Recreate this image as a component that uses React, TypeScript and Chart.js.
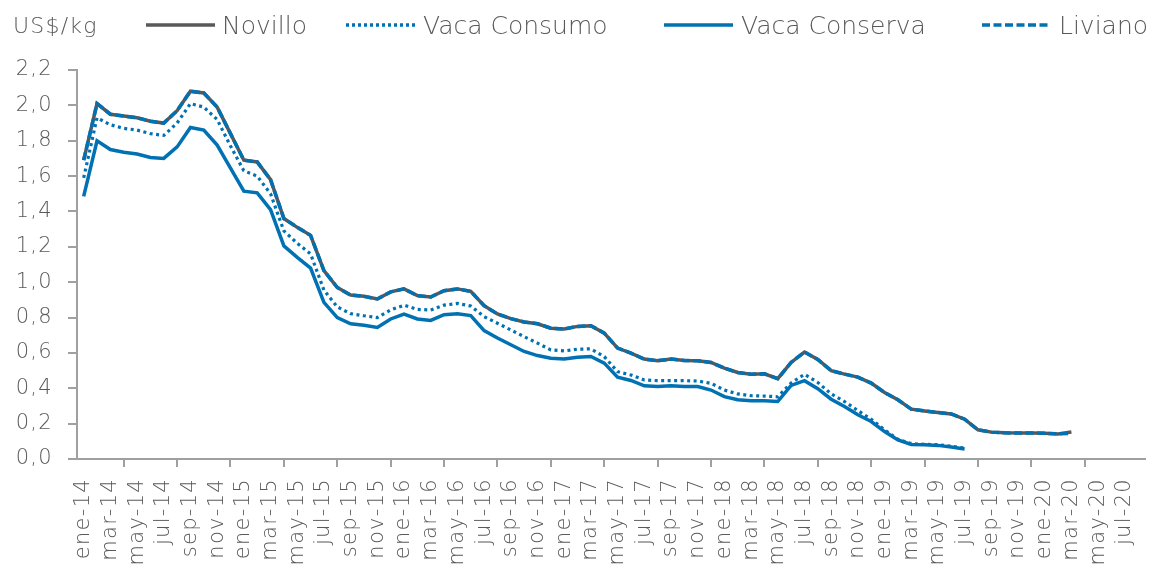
import React, { useEffect, useRef } from 'react';
import { Chart, registerables } from 'chart.js';

Chart.register(...registerables);

// ---- categories (ene-14 .. ago-20) ----
const monthNames = ['ene', 'feb', 'mar', 'abr', 'may', 'jun', 'jul', 'ago', 'sep', 'oct', 'nov', 'dic'];
const years = ['14', '15', '16', '17', '18', '19', '20'];
const allMonths: string[] = [];
years.forEach((y) => monthNames.forEach((m) => allMonths.push(`${m}-${y}`)));
const categories = allMonths.slice(0, 80);

// ---- series (US$/kg) ----
const novillo = [
  1.69, 2.01, 1.95, 1.94, 1.93, 1.91, 1.90, 1.97, 2.08, 2.07, 1.99, 1.84,
  1.69, 1.68, 1.58, 1.36, 1.31, 1.265, 1.065, 0.97, 0.927, 0.92, 0.905, 0.945,
  0.962, 0.924, 0.916, 0.952, 0.962, 0.948, 0.867, 0.82, 0.794, 0.775, 0.765, 0.74,
  0.735, 0.75, 0.754, 0.712, 0.627, 0.599, 0.565, 0.556, 0.565, 0.557, 0.556, 0.546,
  0.514, 0.489, 0.48, 0.482, 0.454, 0.546, 0.605, 0.563, 0.5, 0.48, 0.463, 0.429,
  0.376, 0.335, 0.282, 0.272, 0.263, 0.255, 0.225, 0.165, 0.152, 0.148, 0.147, 0.147,
  0.146, 0.142, 0.153,
];
const vacaConsumo = [
  1.59, 1.93, 1.89, 1.87, 1.86, 1.84, 1.83, 1.90, 2.01, 1.99, 1.92, 1.77,
  1.63, 1.60, 1.50, 1.29, 1.22, 1.16, 0.955, 0.86, 0.822, 0.81, 0.80, 0.843,
  0.87, 0.846, 0.843, 0.87, 0.88, 0.865, 0.805, 0.768, 0.73, 0.692, 0.655, 0.617,
  0.611, 0.621, 0.623, 0.579, 0.494, 0.475, 0.447, 0.443, 0.443, 0.443, 0.441, 0.428,
  0.39, 0.368, 0.358, 0.356, 0.352, 0.43, 0.479, 0.433, 0.368, 0.325, 0.274, 0.225,
  0.165, 0.112, 0.087, 0.083, 0.081, 0.072, 0.062,
];
const vacaConserva = [
  1.485, 1.80, 1.75, 1.735, 1.725, 1.705, 1.70, 1.765, 1.875, 1.86, 1.775, 1.645,
  1.515, 1.505, 1.41, 1.205, 1.14, 1.08, 0.886, 0.80, 0.765, 0.756, 0.744, 0.792,
  0.82, 0.792, 0.784, 0.816, 0.822, 0.811, 0.726, 0.684, 0.646, 0.608, 0.585, 0.57,
  0.565, 0.576, 0.58, 0.542, 0.463, 0.444, 0.414, 0.41, 0.414, 0.41, 0.41, 0.39,
  0.353, 0.335, 0.329, 0.329, 0.325, 0.416, 0.443, 0.398, 0.338, 0.297, 0.25, 0.212,
  0.155, 0.108, 0.082, 0.08, 0.077, 0.068, 0.057,
];
const liviano = [
  1.69, 2.01, 1.95, 1.94, 1.93, 1.91, 1.90, 1.97, 2.08, 2.07, 1.99, 1.84,
  1.69, 1.68, 1.58, 1.36, 1.31, 1.265, 1.065, 0.97, 0.927, 0.92, 0.905, 0.945,
  0.962, 0.924, 0.916, 0.952, 0.962, 0.948, 0.867, 0.82, 0.794, 0.775, 0.765, 0.74,
  0.735, 0.75, 0.754, 0.712, 0.627, 0.599, 0.565, 0.556, 0.565, 0.557, 0.556, 0.546,
  0.514, 0.489, 0.48, 0.482, 0.454, 0.546, 0.605, 0.563, 0.5, 0.48, 0.463, 0.429,
  0.376, 0.335, 0.282, 0.272, 0.263, 0.255, 0.225, 0.165, 0.152, 0.148, 0.147, 0.147,
  0.146, 0.142, 0.145,
];

const seriesNames = ['Novillo', 'Vaca Consumo', 'Vaca Conserva', 'Liviano'];
const unitLabel = 'US$/kg';

const GRAY = '#595959';
const BLUE = '#0071B3';
const AXIS = '#A0A0A0';
const FONT = '"DejaVu Sans", sans-serif';

const legendItems = [
  { label: seriesNames[0], color: GRAY, dash: '', lineLeft: 146, textLeft: 222 },
  { label: seriesNames[1], color: BLUE, dash: '3 3', lineLeft: 346, textLeft: 423 },
  { label: seriesNames[2], color: BLUE, dash: '', lineLeft: 664, textLeft: 741 },
  { label: seriesNames[3], color: BLUE, dash: '8 3.5', lineLeft: 982, textLeft: 1059 },
];

const letterSpacingPlugin = {
  id: 'letterSpacing',
  beforeDraw(chart: any) {
    try {
      (chart.ctx as any).letterSpacing = '1.3px';
    } catch (e) {
      /* ignore */
    }
  },
};

export default function App() {
  const ref = useRef<HTMLCanvasElement>(null);

  useEffect(() => {
    const canvas = ref.current;
    if (!canvas) return;
    const chart = new Chart(canvas, {
      type: 'line',
      data: {
        labels: categories,
        datasets: [
          {
            label: seriesNames[0],
            data: novillo,
            borderColor: GRAY,
            borderWidth: 3.5,
            pointRadius: 0,
            tension: 0,
            order: 2,
          },
          {
            label: seriesNames[1],
            data: vacaConsumo,
            borderColor: BLUE,
            borderWidth: 3.2,
            borderDash: [3, 3.5],
            pointRadius: 0,
            tension: 0,
            order: 1,
          },
          {
            label: seriesNames[2],
            data: vacaConserva,
            borderColor: BLUE,
            borderWidth: 3.5,
            pointRadius: 0,
            tension: 0,
            order: 2,
          },
          {
            label: seriesNames[3],
            data: liviano,
            borderColor: BLUE,
            borderWidth: 3.5,
            borderDash: [8, 3.5],
            pointRadius: 0,
            tension: 0,
            order: 0,
          },
        ],
      },
      options: {
        responsive: false,
        animation: false,
        layout: { padding: { top: 70, left: 0, right: 0, bottom: 0 } },
        plugins: {
          legend: { display: false },
          tooltip: { enabled: false },
        },
        scales: {
          x: {
            type: 'category',
            offset: true,
            ticks: {
              autoSkip: false,
              maxRotation: 90,
              minRotation: 90,
              color: GRAY,
              padding: 11,
              font: { family: FONT, size: 21, weight: '300' },
              callback: (_v: any, i: number) => (i % 2 === 0 ? categories[i] : null),
            },
            grid: {
              offset: true,
              drawOnChartArea: false,
              drawTicks: true,
              tickLength: 8,
              lineWidth: 2,
              color: (ctx: any) => (ctx.index !== undefined && ctx.index % 2 === 0 ? AXIS : 'rgba(0,0,0,0)'),
            },
            border: { display: true, color: AXIS, width: 2 },
            afterFit: (s: any) => {
              s.height = 113;
            },
          },
          y: {
            min: 0,
            max: 2.2,
            ticks: {
              stepSize: 0.2,
              color: GRAY,
              padding: 15,
              font: { family: FONT, size: 21, weight: '300' },
              callback: (v: any) => Number(v).toFixed(1).replace('.', ','),
            },
            grid: {
              drawOnChartArea: false,
              drawTicks: true,
              tickLength: 9,
              lineWidth: 2,
              color: AXIS,
            },
            border: { display: true, color: AXIS, width: 2 },
            afterFit: (s: any) => {
              s.width = 77;
            },
          },
        },
      },
      plugins: [letterSpacingPlugin],
    } as any);
    return () => chart.destroy();
  }, []);

  const textStyle: React.CSSProperties = {
    position: 'absolute',
    top: 13,
    fontFamily: FONT,
    fontSize: 25,
    fontWeight: 300,
    lineHeight: '25px',
    color: GRAY,
    whiteSpace: 'nowrap',
  };

  return (
    <div
      style={{
        position: 'fixed',
        left: 0,
        top: 0,
        width: 1155,
        height: 572,
        overflow: 'hidden',
        background: '#fff',
      }}
    >
      <canvas ref={ref} width={1161} height={572} style={{ position: 'absolute', left: 0, top: 0 }} />
      <span
        style={{
          ...textStyle,
          left: 13,
          top: 15,
          fontSize: 22,
          lineHeight: '22px',
          letterSpacing: '1.2px',
        }}
      >
        {unitLabel}
      </span>
      {legendItems.map((it) => (
        <React.Fragment key={it.label}>
          <svg
            width={70}
            height={6}
            style={{ position: 'absolute', left: it.lineLeft, top: 22 }}
          >
            <line
              x1={0}
              y1={3}
              x2={69}
              y2={3}
              stroke={it.color}
              strokeWidth={3.5}
              strokeDasharray={it.dash || undefined}
            />
          </svg>
          <span style={{ ...textStyle, left: it.textLeft }}>{it.label}</span>
        </React.Fragment>
      ))}
    </div>
  );
}
